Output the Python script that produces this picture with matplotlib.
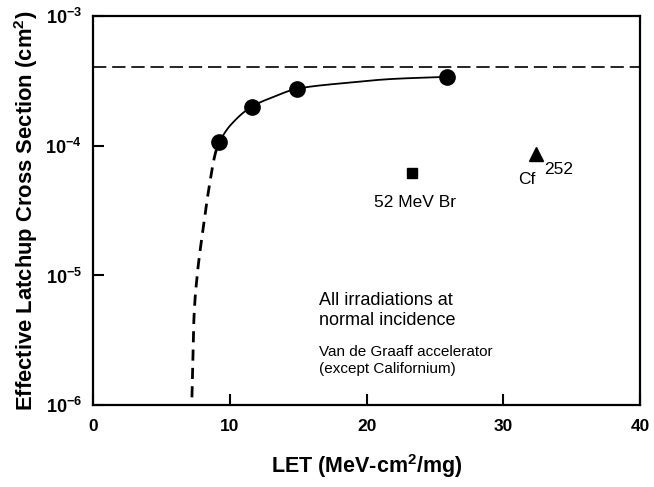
import numpy as np
import matplotlib
matplotlib.use("Agg")
import matplotlib.pyplot as plt

plt.rcParams['font.family'] = ['Liberation Sans', 'DejaVu Sans']
plt.rcParams['mathtext.fontset'] = 'custom'
plt.rcParams['mathtext.rm'] = 'Liberation Sans'
plt.rcParams['mathtext.bf'] = 'Liberation Sans:bold'
plt.rcParams['mathtext.it'] = 'Liberation Sans:italic'

# Data
let_points = [9.2, 11.6, 14.9, 25.9]
xs_points = [1.07e-4, 2.0e-4, 2.75e-4, 3.4e-4]

br_let = [23.3]
br_xs = [6.2e-5]

cf_let = [32.4]
cf_xs = [8.7e-5]

saturation_xs = 4.05e-4

# solid fitted curve
fit_let = [9.2, 10.0, 11.6, 13.2, 14.9, 18.3, 22.0, 25.9]
fit_xs = [1.07e-4, 1.42e-4, 2.0e-4, 2.38e-4, 2.75e-4, 3.04e-4, 3.28e-4, 3.4e-4]

# dashed extrapolation
ext_let = [7.24, 7.31, 7.39, 7.61, 8.04, 8.48, 8.92, 9.2]
ext_xs = [1.15e-6, 2.35e-6, 4.8e-6, 9.7e-6, 2.24e-5, 4.7e-5, 8.5e-5, 1.07e-4]

xticks = [0, 10, 20, 30, 40]
yticks = [1e-6, 1e-5, 1e-4, 1e-3]
ytick_labels = [r'$\mathbf{10^{-6}}$', r'$\mathbf{10^{-5}}$', r'$\mathbf{10^{-4}}$', r'$\mathbf{10^{-3}}$']


def smooth(xp, yp, n=200):
    xp = np.asarray(xp, float)
    yp = np.log10(np.asarray(yp, float))
    h = np.diff(xp)
    d = np.diff(yp) / h
    m = np.zeros_like(xp)
    m[0] = d[0]
    m[-1] = d[-1]
    for i in range(1, len(xp) - 1):
        if d[i - 1] * d[i] > 0:
            w1 = 2 * h[i] + h[i - 1]
            w2 = h[i] + 2 * h[i - 1]
            m[i] = (w1 + w2) / (w1 / d[i - 1] + w2 / d[i])
    xs = np.linspace(xp[0], xp[-1], n)
    ys = np.empty_like(xs)
    for j, x in enumerate(xs):
        i = min(np.searchsorted(xp, x, side='right') - 1, len(xp) - 2)
        t = (x - xp[i]) / h[i]
        h00 = 2 * t**3 - 3 * t**2 + 1
        h10 = t**3 - 2 * t**2 + t
        h01 = -2 * t**3 + 3 * t**2
        h11 = t**3 - t**2
        ys[j] = h00 * yp[i] + h10 * h[i] * m[i] + h01 * yp[i + 1] + h11 * h[i] * m[i + 1]
    return xs, 10**ys


fig = plt.figure(figsize=(6.54, 4.87), dpi=100)
ax = fig.add_axes([0.142, 0.168, 0.837, 0.799])
ax.set_yscale('log')
ax.set_xlim(0, 40)
ax.set_ylim(1e-6, 1e-3)

ax.axhline(saturation_xs, color='black', lw=1.2, dashes=(8, 3.5))

fx, fy = smooth(fit_let, fit_xs)
ax.plot(fx, fy, color='black', lw=1.3)
ex, ey = smooth(ext_let, ext_xs)
ax.plot(ex, ey, color='black', lw=2.0, dashes=(4, 2.6))

ax.plot(let_points, xs_points, 'o', color='black', ms=11)
ax.plot(br_let, br_xs, 's', color='black', ms=6.5)
ax.plot(cf_let, cf_xs, '^', color='black', ms=9.5)

ax.text(23.55, 3.68e-5, '52 MeV Br', ha='center', va='center', fontsize=12.5)
ax.text(31.08, 5.53e-5, 'Cf', ha='left', va='center', fontsize=12.5)
ax.text(32.98, 6.6e-5, '252', ha='left', va='center', fontsize=12.5)

ax.text(16.53, 6.45e-6, 'All irradiations at', ha='left', va='center', fontsize=13)
ax.text(16.53, 4.53e-6, 'normal incidence', ha='left', va='center', fontsize=13)
ax.text(16.53, 2.56e-6, 'Van de Graaff accelerator', ha='left', va='center', fontsize=11)
ax.text(16.53, 1.90e-6, '(except Californium)', ha='left', va='center', fontsize=11)

ax.set_xticks(xticks)
ax.set_xticklabels([str(t) for t in xticks], fontweight='bold', fontsize=12.5)
ax.set_yticks(yticks)
ax.set_yticklabels(ytick_labels, fontsize=13)
ax.yaxis.set_minor_locator(matplotlib.ticker.NullLocator())
ax.tick_params(axis='both', direction='in', length=8, width=1.5, pad=8)
ax.tick_params(axis='x', pad=10)
for s in ax.spines.values():
    s.set_linewidth(1.6)

ax.set_xlabel(r'LET (MeV-cm$^{\mathbf{2}}$/mg)', fontweight='bold', fontsize=15.5, labelpad=13)
ax.set_ylabel(r'Effective Latchup Cross Section (cm$^{\mathbf{2}}$)', fontweight='bold', fontsize=15.8, labelpad=4)

fig.savefig('out.png', dpi=100)
